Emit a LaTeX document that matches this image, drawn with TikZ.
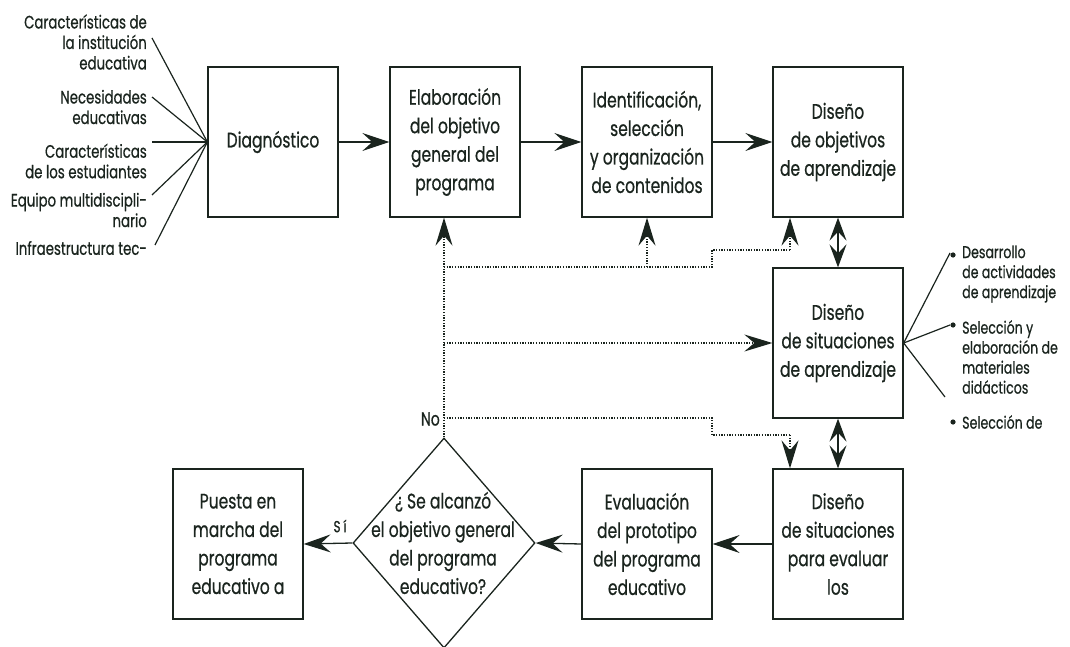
\documentclass[tikz,border=0pt]{standalone}
\usepackage{fontspec}
\setmainfont{Poppins}[FakeStretch=0.74,FakeBold=0.6]
\usetikzlibrary{arrows.meta,shapes.geometric}
\definecolor{ink}{RGB}{26,36,30}
\newcommand{\boxfont}{\fontsize{21}{28.5}\selectfont}
\newcommand{\lblfont}{\fontsize{17}{20}\selectfont}
\newcommand{\leftfont}{\fontsize{18}{20.5}\selectfont}
\begin{document}
\begin{tikzpicture}[x=1pt,y=-1pt,
  box/.style={draw=ink, line width=1.3pt, minimum width=130pt, minimum height=150pt,
    inner sep=0pt, align=center, font=\boxfont, text=ink},
  arr/.style={draw=ink, line width=1.3pt, -{Stealth[length=27pt,width=18pt,inset=10pt]}},
  dbl/.style={draw=ink, line width=1.3pt, {Stealth[length=23pt,width=17pt,inset=9pt]}-{Stealth[length=23pt,width=17pt,inset=9pt]}},
  dots/.style={draw=ink, line width=1.3pt, dash pattern=on 1.3pt off 1.4pt},
  dotarr/.style={dots, -{Stealth[length=28pt,width=17pt,inset=10pt]}},
  thin/.style={draw=ink, line width=1.2pt},
  lbl/.style={font=\lblfont, text=ink, inner sep=0pt},
  leftlbl/.style={font=\leftfont, text=ink, inner sep=0pt, align=right, anchor=east},
]
\useasboundingbox (0,0) rectangle (1070,647);

% boxes
\node[box] (diag)   at (273,142) {Diagnóstico};
\node[box] (elab)   at (455,142) {Elaboración\\del objetivo\\general del\\programa};
\node[box] (ident)  at (647,142) {Identificación,\\selección\\y organización\\de contenidos};
\node[box] (dobj)   at (838,142) {Diseño\\de objetivos\\de aprendizaje};
\node[box] (dsit)   at (838,343) {Diseño\\de situaciones\\de aprendizaje};
\node[box] (deval)  at (838,544) {Diseño\\de situaciones\\para evaluar\\los};
\node[box] (evalp)  at (647,544) {Evaluación\\del prototipo\\del programa\\educativo};
\node[box] (puesta) at (238,544) {Puesta en\\marcha del\\programa\\educativo a};

% decision
\node[diamond, draw=ink, line width=1.3pt, minimum width=182pt, minimum height=210pt, inner sep=0pt] (dec) at (444,543) {};
\node[font=\boxfont, text=ink, align=center, inner sep=0pt] (dectext) at (443,543) {¿ Se alcanzó\\el objetivo general\\del programa\\educativo?};

% main flow
\draw[arr] (diag.east) -- (elab.west);
\draw[arr] (elab.east) -- (ident.west);
\draw[arr] (ident.east) -- (dobj.west);
\draw[dbl] (dobj.south) -- (dsit.north);
\draw[dbl] (dsit.south) -- (deval.north);
\draw[arr] (deval.west) -- (evalp.east);
\draw[arr] (evalp.west) -- (dec.east);
\draw[arr] (dec.west) -- (puesta.east);
\node[font=\fontsize{16}{18}\selectfont, text=ink, inner sep=0pt] (si) at (340,526) {S\hspace{3pt}í};

% feedback (dotted)
\coordinate (jtop) at (444,267);
\coordinate (jmid) at (444,343);
\coordinate (jbot) at (444,418);
\node[font=\fontsize{19}{20}\selectfont, text=ink, inner sep=0pt, anchor=east] (no) at (440,419) {No};
\draw[dotarr] (dec.north) -- (dec.north |- elab.south);
\draw[dots] (jtop) -- (712,267) -- (712,250) -- (790,250);
\draw[dotarr] (790,250) -- (dobj.south -| 790,0);
\draw[dotarr] (jtop -| ident.south) -- (ident.south);
\draw[dotarr] (jmid) -- (dsit.west);
\draw[dots] (jbot) -- (712,418) -- (712,435) -- (790,435);
\draw[dotarr] (790,435) -- (deval.north -| 790,0);

% left inputs
\node[leftlbl] (t1) at (147,42) {Características de\\la institución\\educativa};
\node[leftlbl] (t2) at (147,107) {Necesidades\\educativas};
\node[leftlbl] (t3) at (147,161) {Características\\de los estudiantes};
\node[leftlbl] (t4) at (147,210) {Equipo multidiscipli-\\nario};
\node[leftlbl] (t5) at (147,248) {Infraestructura tec-};
\coordinate (l1) at (152,38);
\coordinate (l2) at (152,97);
\coordinate (l3) at (152,142);
\coordinate (l4) at (152,195);
\coordinate (l5) at (155,245);
\foreach \c in {l1,l2,l3,l4,l5} \draw[thin] (\c) -- (diag.west);

% right outputs
\coordinate (r1) at (950,253);
\coordinate (r2) at (950,325);
\coordinate (r3) at (945,397);
\foreach \c in {r1,r2,r3} \draw[thin] (dsit.east) -- (\c);
\fill[ink] (953,255) circle (2.6);
\fill[ink] (953,325) circle (2.6);
\fill[ink] (953,422) circle (2.6);
\node[lbl, align=left, anchor=west] (s1) at (962,274) {Desarrollo\\de actividades\\de aprendizaje};
\node[lbl, align=left, anchor=west] (s2) at (962,357) {Selección y\\elaboración de\\materiales\\didácticos};
\node[lbl, align=left, anchor=west] (s3) at (962,422) {Selección de};
\end{tikzpicture}
\end{document}
